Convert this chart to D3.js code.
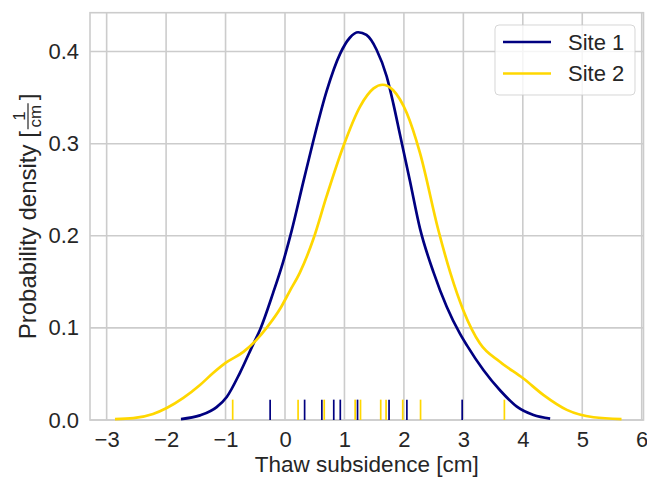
<!DOCTYPE html>
<html>
<head>
<meta charset="utf-8">
<script src="https://cdn.jsdelivr.net/npm/d3@7"></script>
<style>
  body { margin: 0; background: #fff; }
  text { font-family: "Liberation Sans", Arial, sans-serif; fill: #262626; }
</style>
</head>
<body>
<div id="chart"></div>
<script>
var site1Values = [-0.25, 0.33, 0.62, 0.82, 0.93, 1.22, 1.75, 2.05, 2.98];
var site2Values = [-0.88, 0.22, 0.66, 1.18, 1.27, 1.61, 1.70, 1.98, 2.28, 3.69];

// Density curves
var site1X = [-1.75, -1.43, -1.15, -0.98, -0.76, -0.53, -0.42, -0.20, -0.03, 0.11, 0.31, 0.48, 0.70, 0.93, 1.09, 1.23, 1.37, 1.54, 1.71, 1.82, 1.93, 2.10, 2.27, 2.50, 2.72, 2.94, 3.06, 3.34, 3.62, 3.90, 4.18, 4.46];
var site1Y = [0.001, 0.005, 0.014, 0.025, 0.051, 0.083, 0.098, 0.138, 0.172, 0.205, 0.259, 0.304, 0.357, 0.398, 0.415, 0.421, 0.418, 0.402, 0.373, 0.344, 0.311, 0.260, 0.208, 0.160, 0.123, 0.094, 0.081, 0.054, 0.032, 0.0145, 0.0054, 0.0015];
var site2X = [-2.86, -2.55, -2.22, -1.99, -1.71, -1.43, -1.21, -1.00, -0.70, -0.48, -0.31, -0.08, 0.08, 0.25, 0.48, 0.70, 0.98, 1.26, 1.49, 1.64, 1.82, 2.05, 2.27, 2.58, 2.78, 3.00, 3.28, 3.62, 4.01, 4.35, 4.74, 5.19, 5.66];
var site2Y = [0.001, 0.002, 0.0065, 0.013, 0.024, 0.038, 0.051, 0.062, 0.074, 0.087, 0.100, 0.121, 0.140, 0.160, 0.197, 0.243, 0.297, 0.340, 0.360, 0.364, 0.358, 0.333, 0.290, 0.206, 0.160, 0.119, 0.083, 0.063, 0.045, 0.027, 0.011, 0.003, 0.001];

var xTicks = [-3, -2, -1, 0, 1, 2, 3, 4, 5, 6];
var yTicks = [0, 0.1, 0.2, 0.3, 0.4];
var seriesNames = ["Site 1", "Site 2"];
var seriesColors = ["#000080", "#FFD700"];

var width = 647, height = 479;
var margin = {left: 90, right: 3.5, top: 12.7, bottom: 59};

var svg = d3.select("#chart").append("svg")
    .attr("width", width)
    .attr("height", height);

var x = d3.scaleLinear()
    .domain([-3.28, 6.03])
    .range([margin.left, width - margin.right]);

var y = d3.scaleLinear()
    .domain([0, 0.4422])
    .range([height - margin.bottom, margin.top]);

// grid
svg.append("g")
  .selectAll("line")
  .data(xTicks)
  .enter().append("line")
    .attr("x1", function(d) { return x(d); })
    .attr("x2", function(d) { return x(d); })
    .attr("y1", y.range()[0])
    .attr("y2", y.range()[1])
    .style("stroke", "#cccccc")
    .style("stroke-width", 1.6);

svg.append("g")
  .selectAll("line")
  .data(yTicks)
  .enter().append("line")
    .attr("x1", x.range()[0])
    .attr("x2", x.range()[1])
    .attr("y1", function(d) { return y(d); })
    .attr("y2", function(d) { return y(d); })
    .style("stroke", "#cccccc")
    .style("stroke-width", 1.6);

// frame
svg.append("rect")
    .attr("x", x.range()[0])
    .attr("y", y.range()[1])
    .attr("width", x.range()[1] - x.range()[0])
    .attr("height", y.range()[0] - y.range()[1])
    .style("fill", "none")
    .style("stroke", "#cccccc")
    .style("stroke-width", 1.6);

// tick labels through d3 axes, without tick marks
var xAxis = svg.append("g")
    .attr("transform", "translate(0," + y.range()[0] + ")")
    .call(d3.axisBottom(x).tickValues(xTicks).tickSize(0).tickPadding(11)
      .tickFormat(function(d) { return d < 0 ? "\u2212" + Math.abs(d) : d; }));
xAxis.select(".domain").remove();
xAxis.selectAll("text")
    .style("font-size", "22px")
    .style("font-family", "Liberation Sans, Arial, sans-serif")
    .attr("fill", "#262626");

var yAxis = svg.append("g")
    .attr("transform", "translate(" + x.range()[0] + ",0)")
    .call(d3.axisLeft(y).tickValues(yTicks).tickSize(0).tickPadding(11)
      .tickFormat(d3.format(".1f")));
yAxis.select(".domain").remove();
yAxis.selectAll("text")
    .style("font-size", "22px")
    .style("font-family", "Liberation Sans, Arial, sans-serif")
    .attr("fill", "#262626");

// rug plots
var rugHeight = 0.05 * (y.range()[0] - y.range()[1]);
[site1Values, site2Values].forEach(function(vals, i) {
  svg.append("g")
    .selectAll("line")
    .data(vals)
    .enter().append("line")
      .attr("x1", function(d) { return x(d); })
      .attr("x2", function(d) { return x(d); })
      .attr("y1", y.range()[0])
      .attr("y2", y.range()[0] - rugHeight)
      .style("stroke", seriesColors[i])
      .style("stroke-width", 1.7);
});

// density curves
var line = d3.line()
    .x(function(d) { return x(d[0]); })
    .y(function(d) { return y(d[1]); })
    .curve(d3.curveMonotoneX);

[[site1X, site1Y], [site2X, site2Y]].forEach(function(s, i) {
  svg.append("path")
    .datum(d3.zip(s[0], s[1]))
    .attr("d", line)
    .style("fill", "none")
    .style("stroke", seriesColors[i])
    .style("stroke-width", 2.7)
    .style("stroke-linejoin", "round");
});

// x label
svg.append("text")
    .attr("x", (x.range()[0] + x.range()[1]) / 2)
    .attr("y", 472)
    .attr("text-anchor", "middle")
    .style("font-size", "22.5px")
    .text("Thaw subsidence [cm]");

// y label with the little fraction
var yLab = svg.append("g");
var yMain = yLab.append("text")
    .attr("x", 0).attr("y", 0)
    .style("font-size", "24px")
    .text("Probability density [");
var w1 = yMain.node().getComputedTextLength();
var fracW = 26;
yLab.append("text")
    .attr("x", w1 + fracW / 2 + 2).attr("y", -11)
    .attr("text-anchor", "middle")
    .style("font-size", "17px")
    .text("1");
yLab.append("line")
    .attr("x1", w1 + 2).attr("x2", w1 + fracW + 2)
    .attr("y1", -8).attr("y2", -8)
    .style("stroke", "#262626")
    .style("stroke-width", 1.2);
yLab.append("text")
    .attr("x", w1 + fracW / 2 + 2).attr("y", 5)
    .attr("text-anchor", "middle")
    .style("font-size", "17px")
    .text("cm");
var yClose = yLab.append("text")
    .attr("x", w1 + fracW + 5).attr("y", 0)
    .style("font-size", "24px")
    .text("]");
var totalW = w1 + fracW + 5 + yClose.node().getComputedTextLength();
var yMid = (y.range()[0] + y.range()[1]) / 2;
yLab.attr("transform", "translate(36," + (yMid + totalW / 2) + ") rotate(-90)");

// legend
var lg = svg.append("g").attr("transform", "translate(495,25)");
lg.append("rect")
    .attr("width", 140).attr("height", 70)
    .attr("rx", 4).attr("ry", 4)
    .style("fill", "#ffffff")
    .style("fill-opacity", 0.8)
    .style("stroke", "#cccccc")
    .style("stroke-opacity", 0.8)
    .style("stroke-width", 1);
seriesNames.forEach(function(name, i) {
  lg.append("line")
    .attr("x1", 8).attr("x2", 56)
    .attr("y1", 17 + i * 31.5).attr("y2", 17 + i * 31.5)
    .style("stroke", seriesColors[i])
    .style("stroke-width", 2.7);
  lg.append("text")
    .attr("x", 73).attr("y", 17 + i * 31.5)
    .attr("dy", "0.35em")
    .style("font-size", "22px")
    .text(name);
});
</script>
</body>
</html>
